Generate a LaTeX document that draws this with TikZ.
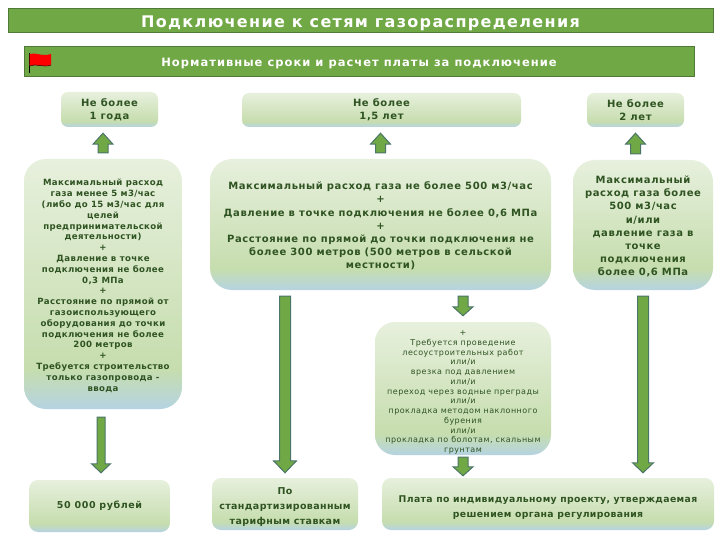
\documentclass[tikz,border=0pt]{standalone}
\usepackage{fontspec}
\setmainfont{DejaVu Sans}
\newfontfamily\titlefont[LetterSpace=8.4]{DejaVu Sans}
\newfontfamily\barfont[LetterSpace=8.8]{DejaVu Sans}
\newfontfamily\boxfont[LetterSpace=6]{DejaVu Sans}
\newfontfamily\tightfont[LetterSpace=4]{DejaVu Sans}
\usepackage{xcolor}
\usetikzlibrary{calc}
\definecolor{barGreen}{HTML}{70A845}
\definecolor{barEdge}{HTML}{4F7A37}
\definecolor{arrowEdge}{HTML}{4A7568}
\definecolor{boxText}{HTML}{2F5422}
\definecolor{boxTop}{HTML}{E7F0DD}
\definecolor{boxMid}{HTML}{C6DDAE}
\definecolor{boxLow}{HTML}{B5D3E2}
\pgfdeclareverticalshading{boxfade}{100bp}{color(0bp)=(boxLow); color(25bp)=(boxLow); color(33bp)=(boxMid); color(75bp)=(boxTop); color(100bp)=(boxTop)}
\tikzset{
  bar/.style={draw=barEdge, fill=barGreen, line width=0.8pt, text=white, text depth=0pt, inner sep=0pt},
  box/.style={rounded corners=#1, shading=boxfade, text=boxText, align=center, inner sep=0pt},
  box/.default=7pt,
  % block arrow: shaft width, head width, head length
  flow/.style n args={3}{draw=arrowEdge, fill=barGreen, line width=1pt, line join=miter, to path={
    -- ($(\tikztostart)!#1/2!90:(\tikztotarget)$)
    -- ($(\tikztotarget)!#3!(\tikztostart)!#1/2!-90:(\tikztostart)$)
    -- ($(\tikztotarget)!#3!(\tikztostart)!#2/2!-90:(\tikztostart)$)
    -- (\tikztotarget)
    -- ($(\tikztotarget)!#3!(\tikztostart)!#2/2!90:(\tikztostart)$)
    -- ($(\tikztotarget)!#3!(\tikztostart)!#1/2!90:(\tikztostart)$)
    -- ($(\tikztostart)!#1/2!-90:(\tikztotarget)$)
    -- cycle}},
}

\begin{document}
\begin{tikzpicture}[x=1pt, y=-1pt]
        \useasboundingbox (0,0) rectangle (720,540);

        % --- Header bars ---
        \node[bar, minimum width=705pt, minimum height=24pt, text height=15.6pt, font=\titlefont\bfseries\fontsize{16}{18}\selectfont] (title) at (360.5,20) {Подключение к сетям газораспределения};
        \node[bar, minimum width=670pt, minimum height=30pt, text height=11.4pt, font=\barfont\bfseries\fontsize{11.5}{13}\selectfont] (subtitle) at (359,61) {Нормативные сроки и расчет платы за подключение};

        % flag on the second bar
        \draw[black, line width=0.8pt] (29.5,53) -- (29.5,73);
        \fill[red] (29.5,54) .. controls (36,52) and (42,57) .. (51,54) -- (51,65) .. controls (43,68) and (36,63) .. (29.5,66) -- cycle;
        \draw[black!70!red, line width=0.6pt] (29.5,66) .. controls (36,63) and (43,68) .. (51,65);

        % --- Time limits ---
        \node[box, minimum width=97pt, minimum height=35pt, font=\boxfont\bfseries\fontsize{10}{13}\selectfont] (limitA) at (109.5,109.5) {Не более\\1 года};
        \node[box, minimum width=279pt, minimum height=34pt, font=\boxfont\bfseries\fontsize{10}{13}\selectfont] (limitB) at (381.5,110) {Не более\\1,5 лет};
        \node[box, minimum width=97pt, minimum height=34pt, font=\boxfont\bfseries\fontsize{10}{13}\selectfont] (limitC) at (635.5,110) {Не более\\2 лет};

        % --- Conditions ---
        \node[box=22pt, minimum width=158pt, minimum height=250pt, font=\tightfont\bfseries\fontsize{8.6}{10.8}\selectfont] (condA) at (103,284) {\rule{0pt}{10pt}Максимальный расход\\газа менее 5 м3/час\\(либо до 15 м3/час для\\целей\\предпринимательской\\деятельности)\\+\\Давление в точке\\подключения не более\\0,3 МПа\\+\\Расстояние по прямой от\\газоиспользующего\\оборудования до точки\\подключения не более\\200 метров\\+\\Требуется  строительство\\только газопровода -\\ввода};
        \node[box=22pt, minimum width=341pt, minimum height=131pt, font=\boxfont\bfseries\fontsize{10}{13.2}\selectfont] (condB) at (380.5,224.5) {\rule{0pt}{11pt}Максимальный расход газа не более 500 м3/час\\+\\Давление в точке подключения не более 0,6 МПа\\+\\Расстояние по прямой до точки подключения не\\более 300 метров (500 метров в сельской\\местности)};
        \node[box=22pt, minimum width=140pt, minimum height=130pt, font=\boxfont\bfseries\fontsize{10}{13.2}\selectfont] (condC) at (643,225) {\rule{0pt}{11pt}Максимальный\\расход газа более\\500 м3/час\\и/или\\давление газа в\\точке\\подключения\\более 0,6 МПа};
        \node[box=20pt, minimum width=176pt, minimum height=133pt, font=\boxfont\fontsize{8}{9.75}\selectfont] (works) at (463,388.5) {\rule{0pt}{13pt}+\\Требуется проведение\\лесоустроительных работ\\или/и\\врезка под давлением\\или/и\\переход через водные преграды\\или/и\\прокладка методом наклонного\\бурения\\или/и\\прокладка по болотам, скальным\\грунтам};

        % --- Payment ---
        \node[box=9pt, minimum width=141pt, minimum height=52pt, font=\boxfont\bfseries\fontsize{9.5}{12}\selectfont] (feeA) at (99.5,506) {50 000  рублей};
        \node[box=9pt, minimum width=146pt, minimum height=52pt, font=\tightfont\bfseries\fontsize{9.5}{15}\selectfont] (feeB) at (285,504) {\rule{0pt}{12pt}По\\стандартизированным\\тарифным ставкам};
        \node[box=9pt, minimum width=332pt, minimum height=52pt, font=\tightfont\bfseries\fontsize{9.3}{15}\selectfont] (feeC) at (548,504) {\rule{0pt}{14pt}Плата по индивидуальному проекту, утверждаемая\\решением органа регулирования};

        % --- Arrows ---
        \draw[flow={10pt}{20pt}{11pt}] ($(condA.north)+(0,-6)$) to ($(condA.north |- limitA.south)+(0,6)$);
        \draw[flow={10pt}{20pt}{11pt}] ($(condB.north)+(0,-6)$) to ($(condB.north |- limitB.south)+(0,6)$);
        \draw[flow={10pt}{20pt}{11pt}] ($(limitC.south |- condC.north)+(0,-6)$) to ($(limitC.south)+(0,6)$);
        \draw[flow={10pt}{20pt}{9pt}] ($(works.north |- condB.south)+(0,6)$) to ($(works.north)+(0,-6)$);
        \draw[flow={10pt}{20pt}{9pt}] ($(works.south)+(0,2)$) to ($(works.south |- feeC.north)+(0,-2)$);
        \draw[flow={8pt}{19pt}{9pt}] ($(feeA.north |- condA.south)+(1.5,8)$) to ($(feeA.north)+(1.5,-7)$);
        \draw[flow={11pt}{23pt}{12pt}] ($(feeB.north |- condB.south)+(0,6)$) to ($(feeB.north)+(0,-5)$);
        \draw[flow={11pt}{21pt}{10pt}] ($(condC.south)+(0,6)$) to ($(condC.south |- feeC.north)+(0,-5)$);
\end{tikzpicture}
\end{document}
